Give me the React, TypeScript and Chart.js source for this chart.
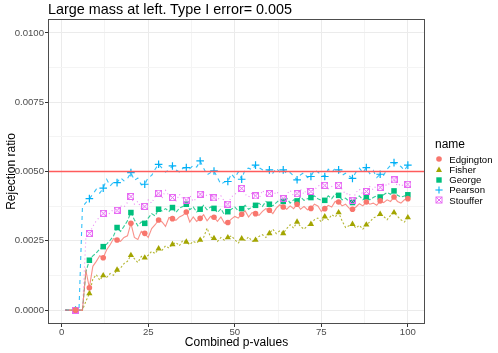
import React, { useEffect, useRef } from "react";
import { Chart, registerables } from "chart.js";

Chart.register(...registerables);

const TITLE = "Large mass at left. Type I error= 0.005";
const X_TITLE = "Combined p-values";
const Y_TITLE = "Rejection ratio";
const LEGEND_TITLE = "name";

const X_VALUES = Array.from({ length: 100 }, (_, i) => i + 1);
const MARKER_STEP = 4;
const TYPE_I_ERROR = 0.005;

const X_MAJOR = [0, 25, 50, 75, 100];
const X_MINOR = [12.5, 37.5, 62.5, 87.5];
const Y_MAJOR = [0, 0.0025, 0.005, 0.0075, 0.01];
const Y_MINOR = [0.00125, 0.00375, 0.00625, 0.00875];

const EDGINGTON = [
  0, 0, 0, 0, 0, 0, 0.00142, 0.00081, 0.00158, 0.00176,
  0.00196, 0.00189, 0.00218, 0.00236, 0.00258, 0.00253, 0.00248, 0.00262, 0.00268, 0.00313,
  0.00262, 0.00255, 0.00284, 0.00277, 0.00262, 0.00294, 0.00308, 0.00325, 0.00318, 0.00302,
  0.00334, 0.0033, 0.00324, 0.00336, 0.00342, 0.00354, 0.00318, 0.00336, 0.0032, 0.00331,
  0.00344, 0.00322, 0.00338, 0.00335, 0.0032, 0.00336, 0.00314, 0.00316, 0.00328, 0.00338,
  0.00332, 0.00346, 0.00358, 0.00336, 0.00352, 0.00348, 0.00342, 0.00356, 0.00366, 0.0036,
  0.00348, 0.00368, 0.0038, 0.00372, 0.00364, 0.00376, 0.00366, 0.00382, 0.00364, 0.00374,
  0.00362, 0.00367, 0.00382, 0.00376, 0.00356, 0.00366, 0.00378, 0.00372, 0.00392, 0.0039,
  0.00376, 0.00382, 0.00368, 0.00364, 0.00372, 0.00384, 0.00376, 0.0039, 0.00382, 0.00386,
  0.00378, 0.00394, 0.00388, 0.00398, 0.00392, 0.00408, 0.00392, 0.00386, 0.00398, 0.00402,
];

const FISHER = [
  0, 0, 0, 0, 0, 0, 0.00032, 0.0006, 0.00112, 0.00128,
  0.00108, 0.00125, 0.00118, 0.00132, 0.00126, 0.00145, 0.00152, 0.00168, 0.00176, 0.00198,
  0.00186, 0.00172, 0.00194, 0.00189, 0.00198, 0.00212, 0.00204, 0.00222, 0.00216, 0.00232,
  0.00224, 0.00237, 0.00244, 0.00232, 0.00252, 0.00246, 0.00236, 0.00248, 0.00242, 0.00253,
  0.00262, 0.00296, 0.00264, 0.00259, 0.00248, 0.00262, 0.00252, 0.00262, 0.00268, 0.00254,
  0.00242, 0.00258, 0.00252, 0.00264, 0.00248, 0.00253, 0.00266, 0.00272, 0.00262, 0.00277,
  0.00292, 0.00276, 0.00286, 0.00277, 0.00294, 0.00308, 0.00296, 0.00318, 0.00302, 0.00292,
  0.00304, 0.0031, 0.00326, 0.00332, 0.00318, 0.00337, 0.00326, 0.00344, 0.00336, 0.00352,
  0.00322, 0.00298, 0.00304, 0.0031, 0.00296, 0.00306, 0.00292, 0.00308, 0.00318, 0.00332,
  0.00338, 0.00346, 0.00338, 0.00326, 0.00342, 0.00352, 0.00338, 0.00326, 0.00318, 0.00334,
];

const GEORGE = [
  0, 0, 0, 0, 0, 0, 0.00138, 0.0018, 0.00196, 0.00206,
  0.0022, 0.00229, 0.00238, 0.00252, 0.00268, 0.00298, 0.00284, 0.00302, 0.00322, 0.00352,
  0.00326, 0.00304, 0.00318, 0.00313, 0.00332, 0.00348, 0.0034, 0.00364, 0.00358, 0.00366,
  0.00356, 0.0037, 0.00352, 0.00368, 0.00374, 0.00382, 0.00362, 0.00372, 0.00354, 0.00364,
  0.00378, 0.00362, 0.00372, 0.00367, 0.00352, 0.00366, 0.00344, 0.00355, 0.00364, 0.00372,
  0.00358, 0.00366, 0.00378, 0.00364, 0.00372, 0.00378, 0.00386, 0.00374, 0.00392, 0.00382,
  0.00376, 0.00388, 0.00398, 0.00392, 0.00404, 0.00386, 0.00398, 0.00394, 0.00408, 0.00396,
  0.00402, 0.00406, 0.00412, 0.00402, 0.00396, 0.00396, 0.00412, 0.00402, 0.00418, 0.00414,
  0.00398, 0.00404, 0.00392, 0.00388, 0.00402, 0.00412, 0.00398, 0.00408, 0.00398, 0.00406,
  0.00412, 0.00408, 0.00416, 0.00424, 0.00418, 0.0043, 0.00414, 0.00408, 0.00412, 0.00416,
];

const PEARSON = [
  0, 0, 0, 0, 0, 0.00372, 0.00388, 0.00402, 0.00418, 0.00436,
  0.00422, 0.0044, 0.00472, 0.00448, 0.00462, 0.0046, 0.00478, 0.00466, 0.00474, 0.00496,
  0.00468, 0.00476, 0.00452, 0.00454, 0.00478, 0.00486, 0.00508, 0.00526, 0.00512, 0.00498,
  0.00506, 0.0052, 0.00506, 0.00498, 0.00512, 0.00514, 0.0051, 0.00522, 0.00516, 0.00538,
  0.00512, 0.00488, 0.00496, 0.00502, 0.00478, 0.00454, 0.00462, 0.00464, 0.00492, 0.00476,
  0.00498, 0.00472, 0.00508, 0.00512, 0.00506, 0.00523, 0.00514, 0.00506, 0.00498, 0.00506,
  0.00494, 0.00512, 0.00498, 0.00506, 0.00492, 0.00496, 0.00484, 0.0047, 0.00488, 0.00496,
  0.00478, 0.00482, 0.00506, 0.00498, 0.00488, 0.00482, 0.00508, 0.00496, 0.00512, 0.00506,
  0.00486, 0.00494, 0.00484, 0.00475, 0.00498, 0.00512, 0.00496, 0.00514, 0.00492, 0.00504,
  0.00478, 0.0049, 0.00486, 0.00508, 0.00522, 0.00532, 0.00524, 0.00518, 0.00504, 0.00523,
];

const STOUFFER = [
  0, 0, 0, 0, 0, 0, 0.00262, 0.00276, 0.00302, 0.00322,
  0.00336, 0.00349, 0.00338, 0.00352, 0.00364, 0.0036, 0.00376, 0.00372, 0.00388, 0.0041,
  0.00382, 0.00392, 0.00366, 0.00374, 0.00398, 0.00386, 0.0041, 0.00422, 0.00404, 0.00432,
  0.00412, 0.00406, 0.00392, 0.00418, 0.00402, 0.00397, 0.00414, 0.00392, 0.00404, 0.00418,
  0.00426, 0.00412, 0.00418, 0.00405, 0.00396, 0.00412, 0.00392, 0.00382, 0.00408, 0.00418,
  0.00426, 0.00439, 0.00418, 0.00408, 0.00422, 0.00412, 0.00402, 0.00432, 0.00414, 0.0042,
  0.00412, 0.00428, 0.00416, 0.00402, 0.00418, 0.00432, 0.00412, 0.0042, 0.00436, 0.00418,
  0.00442, 0.00428, 0.00434, 0.00446, 0.00456, 0.0045, 0.00438, 0.00446, 0.00452, 0.0045,
  0.00436, 0.00418, 0.00422, 0.00396, 0.00424, 0.00436, 0.00418, 0.00428, 0.00446, 0.00434,
  0.00452, 0.00442, 0.00458, 0.00448, 0.00462, 0.0047, 0.00448, 0.00456, 0.00442, 0.00454,
];

const SERIES = [
  { name: "Edgington", values: EDGINGTON, color: "#F8766D", lineColor: "rgba(248,118,109,0.8)", dash: [], style: "circle" },
  { name: "Fisher", values: FISHER, color: "#A3A500", lineColor: "rgba(163,165,0,0.8)", dash: [2, 2], style: "triangle" },
  { name: "George", values: GEORGE, color: "#00BF7D", lineColor: "rgba(0,191,125,0.8)", dash: [4, 2], style: "rect" },
  { name: "Pearson", values: PEARSON, color: "#00B0F6", lineColor: "rgba(0,176,246,0.8)", dash: [4, 4], style: "cross" },
  { name: "Stouffer", values: STOUFFER, color: "#E76BF3", lineColor: "rgba(231,107,243,0.8)", dash: [1, 3], style: "boxx" },
];

const FONT = "'Liberation Sans', Arial, Helvetica, sans-serif";

function makeBoxX(color: string) {
  const c = document.createElement("canvas");
  c.width = 7;
  c.height = 7;
  const g = c.getContext("2d")!;
  g.strokeStyle = color;
  g.lineWidth = 1;
  g.strokeRect(0.5, 0.5, 6, 6);
  g.beginPath();
  g.moveTo(0.5, 0.5);
  g.lineTo(6.5, 6.5);
  g.moveTo(6.5, 0.5);
  g.lineTo(0.5, 6.5);
  g.stroke();
  return c;
}

function LegendIcon({ style, color }: { style: string; color: string }) {
  const s = 10;
  const c = s / 2;
  let shape: React.ReactNode = null;
  if (style === "circle") shape = <circle cx={c} cy={c} r={2.8} fill={color} />;
  else if (style === "triangle")
    shape = <polygon points={`${c},${c - 3.4} ${c + 3},${c + 1.9} ${c - 3},${c + 1.9}`} fill={color} />;
  else if (style === "rect") shape = <rect x={c - 2.7} y={c - 2.7} width={5.4} height={5.4} fill={color} />;
  else if (style === "cross")
    shape = (
      <g stroke={color} strokeWidth={1.1}>
        <line x1={c - 3.6} y1={c} x2={c + 3.6} y2={c} />
        <line x1={c} y1={c - 3.6} x2={c} y2={c + 3.6} />
      </g>
    );
  else
    shape = (
      <g stroke={color} strokeWidth={1} fill="none">
        <rect x={c - 3} y={c - 3} width={6} height={6} />
        <line x1={c - 3} y1={c - 3} x2={c + 3} y2={c + 3} />
        <line x1={c + 3} y1={c - 3} x2={c - 3} y2={c + 3} />
      </g>
    );
  return (
    <svg width={s} height={s} style={{ position: "absolute", left: -5, top: -5 }}>
      {shape}
    </svg>
  );
}

export default function App() {
  const ref = useRef<HTMLCanvasElement | null>(null);

  useEffect(() => {
    if (!ref.current) return;
    const boxX = makeBoxX("#E76BF3");
    const isMajorX = (v: number) => X_MAJOR.includes(v);
    const isMajorY = (v: number) => Y_MAJOR.some((m) => Math.abs(m - v) < 1e-9);

    const datasets: any[] = [
      {
        label: "ref",
        data: [
          { x: -10, y: TYPE_I_ERROR },
          { x: 120, y: TYPE_I_ERROR },
        ],
        borderColor: "#FF5C5C",
        borderWidth: 1.7,
        pointRadius: 0,
        order: 0,
        clip: 0,
      },
    ];
    const orders: Record<string, number> = { Edgington: 1, Stouffer: 2, Pearson: 3, George: 4, Fisher: 5 };
    SERIES.forEach((s) => {
      const radius =
        s.style === "circle" ? 2.8 : s.style === "triangle" ? 3.6 : s.style === "rect" ? 3.9 : s.style === "cross" ? 3.8 : 3.5;
      datasets.push({
        label: s.name,
        data: X_VALUES.map((x, i) => ({ x, y: s.values[i] })),
        borderColor: s.lineColor,
        borderWidth: 1.1,
        borderDash: s.dash,
        tension: 0,
        order: orders[s.name],
        pointStyle: s.style === "boxx" ? boxX : s.style,
        pointRadius: (ctx: any) => (ctx.raw && ctx.raw.x % MARKER_STEP === 0 ? radius : 0),
        pointHoverRadius: 0,
        pointBackgroundColor: s.color,
        pointBorderColor: s.color,
        pointBorderWidth: s.style === "cross" ? 1.2 : 0,
      });
    });

    const borderPlugin = {
      id: "panelBorder",
      afterDraw(chart: any) {
        const { ctx, chartArea: a } = chart;
        ctx.save();
        ctx.strokeStyle = "#4d4d4d";
        ctx.lineWidth = 1;
        ctx.strokeRect(Math.round(a.left) + 0.5, Math.round(a.top) + 0.5, Math.round(a.right - a.left) - 1, Math.round(a.bottom - a.top) - 1);
        ctx.restore();
      },
    };

    const chart = new Chart(ref.current, {
      type: "line",
      data: { datasets },
      plugins: [borderPlugin],
      options: {
        animation: false,
        responsive: false,
        devicePixelRatio: 1,
        layout: { padding: { top: 19, right: 73, left: 0, bottom: 0 } },
        plugins: { legend: { display: false }, tooltip: { enabled: false }, title: { display: false } },
        scales: {
          x: {
            type: "linear",
            min: -3.95,
            max: 104.95,
            afterBuildTicks: (scale: any) => {
              scale.ticks = [...X_MAJOR, ...X_MINOR].sort((a, b) => a - b).map((v) => ({ value: v }));
            },
            afterFit: (scale: any) => {
              scale.height = 29;
            },
            ticks: {
              autoSkip: false,
              maxRotation: 0,
              padding: 0,
              color: "#4D4D4D",
              font: { family: FONT, size: 9.6 },
              callback: (v: any) => (isMajorX(Number(v)) ? String(v) : ""),
            },
            grid: {
              color: (ctx: any) => (ctx.tick && isMajorX(ctx.tick.value) ? "#EBEBEB" : "#F4F4F4"),
              lineWidth: 1,
              tickLength: 3,
              tickColor: (ctx: any) => (ctx.tick && isMajorX(ctx.tick.value) ? "#333333" : "rgba(0,0,0,0)"),
            },
            border: { display: false },
            title: {
              display: true,
              text: X_TITLE,
              color: "#000",
              font: { family: FONT, size: 12 },
              padding: { top: 0, bottom: 3 },
            },
          },
          y: {
            type: "linear",
            min: -0.0005,
            max: 0.0105,
            afterBuildTicks: (scale: any) => {
              scale.ticks = [...Y_MAJOR, ...Y_MINOR].sort((a, b) => a - b).map((v) => ({ value: v }));
            },
            afterFit: (scale: any) => {
              scale.width = 48;
            },
            ticks: {
              autoSkip: false,
              padding: 1,
              color: "#4D4D4D",
              font: { family: FONT, size: 9.6 },
              callback: (v: any) => (isMajorY(Number(v)) ? Number(v).toFixed(4) : ""),
            },
            grid: {
              color: (ctx: any) => (ctx.tick && isMajorY(ctx.tick.value) ? "#EBEBEB" : "#F4F4F4"),
              lineWidth: 1,
              tickLength: 3,
              tickColor: (ctx: any) => (ctx.tick && isMajorY(ctx.tick.value) ? "#333333" : "rgba(0,0,0,0)"),
            },
            border: { display: false },
            title: {
              display: true,
              text: Y_TITLE,
              color: "#000",
              font: { family: FONT, size: 12 },
              padding: { top: 4, bottom: 0 },
            },
          },
        },
      } as any,
    });
    return () => chart.destroy();
  }, []);

  return (
    <div style={{ position: "fixed", left: 0, top: 0, width: 498, height: 353, background: "#fff", fontFamily: FONT }}>
      <canvas ref={ref} width={498} height={353} style={{ position: "absolute", left: 0, top: 0, width: 498, height: 353 }} />
      <div style={{ position: "absolute", left: 48, top: 2, fontSize: 14.4, lineHeight: "15px", color: "#000", whiteSpace: "nowrap" }}>
        {TITLE}
      </div>
      <div style={{ position: "absolute", left: 435, top: 138, fontSize: 12, lineHeight: "12px", color: "#000" }}>{LEGEND_TITLE}</div>
      {SERIES.map((s, i) => (
        <div key={s.name} style={{ position: "absolute", left: 439.3, top: 159.3 + i * 10.2, width: 0, height: 0 }}>
          <LegendIcon style={s.style} color={s.color} />
          <div style={{ position: "absolute", left: 10, top: -5.5, fontSize: 9.6, lineHeight: "11px", color: "#000", whiteSpace: "nowrap" }}>
            {s.name}
          </div>
        </div>
      ))}
    </div>
  );
}
